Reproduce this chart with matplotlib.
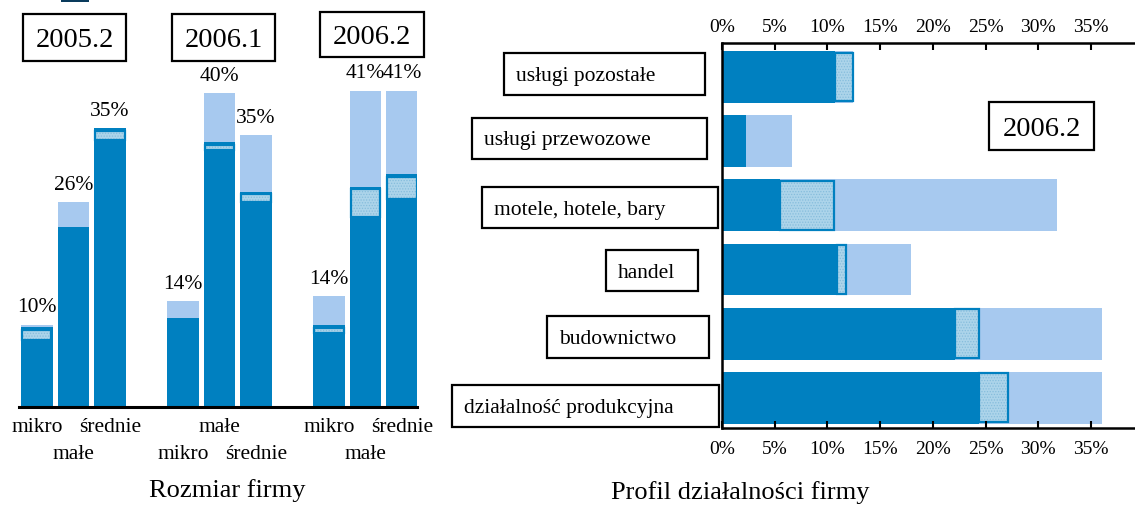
import numpy as np
import matplotlib
matplotlib.use("Agg")
import matplotlib.pyplot as plt
from matplotlib.patches import Rectangle

plt.rcParams["font.family"] = ["Liberation Serif", "DejaVu Serif"]
plt.rcParams["hatch.linewidth"] = 0.6

nan = np.nan

# --- left chart: firm size by survey period ---
periods = ["2005.2", "2006.1", "2006.2"]
sizes = ["mikro", "małe", "średnie"]
size_total = [[10.4, 25.9, 35.3], [13.4, 39.7, 34.4], [14.0, 40.0, 40.0]]
size_dark = [[10.1, 22.8, 35.3], [11.3, 33.5, 27.2], [10.4, 27.8, 29.5]]
size_hatch_lo = [[8.5, nan, 33.8], [nan, 32.5, 25.9], [9.4, 24.1, 26.3]]
size_hatch_hi = [[9.7, nan, 35.0], [nan, 33.2, 27.0], [10.0, 27.6, 29.1]]
size_labels = ["10%", "26%", "35%", "14%", "40%", "35%", "14%", "41%", "41%"]
# which tick labels sit on the second row
size_row2 = [[False, True, False], [True, False, True], [False, True, False]]

# --- right chart: business profile, 2006.2 ---
activities = ["usługi pozostałe", "usługi przewozowe", "motele, hotele, bary",
              "handel", "budownictwo", "działalność produkcyjna"]
act_dark = [10.7, 2.3, 5.5, 10.9, 22.1, 24.4]
act_hatch = [12.4, nan, 10.6, 11.8, 24.4, 27.1]
act_total = [12.4, 6.6, 31.8, 17.9, 36.1, 36.1]
pct_ticks = [0, 5, 10, 15, 20, 25, 30, 35]

DARK = "#0080c0"
LIGHT = "#a7c9ef"
HATCHF = "#acd4ea"
HATCHC = "#86bddc"

W, H = 1135, 509
fig = plt.figure(figsize=(W / 100, H / 100), dpi=100)


def fx(x):
    return x / W


def fy(y):
    return 1 - y / H


def box(x0, y0, x1, y1, txt, fs, ha="center", lw=1.6):
    fig.add_artist(Rectangle((fx(x0), fy(y1)), fx(x1) - fx(x0), fy(y0) - fy(y1),
                             transform=fig.transFigure, fill=False,
                             edgecolor="black", lw=lw))
    if ha == "center":
        fig.text(fx((x0 + x1) / 2), fy((y0 + y1) / 2), txt, ha="center",
                 va="center_baseline", fontsize=fs)
    else:
        fig.text(fx(x0 + 12), fy((y0 + y1) / 2), txt, ha="left",
                 va="center_baseline", fontsize=fs)


def hatched(ax, x, lo, hi, width, horizontal=False):
    if horizontal:
        ax.barh(x, hi - lo, left=lo, height=width, color=HATCHF,
                hatch="......", edgecolor=HATCHC, lw=0)
        ax.barh(x, hi - lo, left=lo, height=width, fill=False,
                edgecolor=DARK, lw=1.6)
    else:
        ax.bar(x, hi - lo, bottom=lo, width=width, color=HATCHF,
               hatch="......", edgecolor=HATCHC, lw=0)
        ax.bar(x, hi - lo, bottom=lo, width=width, fill=False,
               edgecolor=DARK, lw=1.6)


# left axes
ax1 = fig.add_axes([fx(19), fy(407), fx(417) - fx(19), fy(20) - fy(407)])
bw = 0.86
k = 0
for g in range(len(periods)):
    for i in range(len(sizes)):
        x = g * 4 + i
        ax1.bar(x, size_total[g][i], width=bw, color=LIGHT, lw=0)
        ax1.bar(x, size_dark[g][i], width=bw, color=DARK, lw=0)
        if not np.isnan(size_hatch_lo[g][i]):
            hatched(ax1, x, size_hatch_lo[g][i], size_hatch_hi[g][i], bw - 0.06)
        ax1.annotate(size_labels[k], (x, size_total[g][i]), xytext=(0, 9),
                     textcoords="offset points", ha="center", va="baseline",
                     fontsize=15.5, annotation_clip=False)
        # staggered category labels under the axis
        off = -34.5 if size_row2[g][i] else -14.5
        ax1.annotate(sizes[i], (x, 0), xycoords=("data", "axes fraction"),
                     xytext=(0, off), textcoords="offset points",
                     ha="center", va="center", fontsize=15.5,
                     annotation_clip=False)
        k += 1

ax1.set_xlim(-0.49, 10.41)
ax1.set_ylim(0, 387 / 7.9)
ax1.set_xticks([])
ax1.set_yticks([])
for s in ["top", "right", "left"]:
    ax1.spines[s].set_visible(False)
ax1.spines["bottom"].set_linewidth(2.2)

box(23, 14, 126, 61, periods[0], 20.5)
box(172, 14, 275, 61, periods[1], 20.5)
box(320, 12, 424, 57, periods[2], 20.5)
fig.text(fx(227), fy(491), "Rozmiar firmy", ha="center", va="center",
         fontsize=19)

# cut-off legend swatch at the very top
fig.add_artist(Rectangle((fx(61), fy(2)), fx(28), fy(0) - fy(2),
                         transform=fig.transFigure, color="#0a3b5c", lw=0))

# right axes
ax2 = fig.add_axes([fx(722), fy(428), fx(1135) - fx(722), fy(43) - fy(428)])
ypos = np.arange(len(activities))
bh = 0.81
ax2.barh(ypos, act_total, height=bh, color=LIGHT, lw=0)
ax2.barh(ypos, act_dark, height=bh, color=DARK, lw=0)
for j in range(len(activities)):
    if not np.isnan(act_hatch[j]):
        hatched(ax2, ypos[j], act_dark[j], act_hatch[j], bh - 0.05,
                horizontal=True)

ax2.set_xlim(0, 413 / 10.54)
ax2.set_ylim(5.47, -0.53)
ax2.set_xticks(pct_ticks)
ax2.set_xticklabels([f"{t}%" for t in pct_ticks], fontsize=14)
ax2.tick_params(axis="x", top=True, labeltop=False, bottom=True,
                labelbottom=True, direction="in", length=5, width=1.5, pad=9)
for t in pct_ticks:
    ax2.annotate(f"{t}%", (t, 1), xycoords=("data", "axes fraction"),
                 xytext=(0, 11.5), textcoords="offset points", ha="center",
                 va="center", fontsize=14, annotation_clip=False)
ax2.set_yticks([])
ax2.spines["right"].set_visible(False)
for s in ["top", "bottom", "left"]:
    ax2.spines[s].set_linewidth(1.8)

cat_boxes = [(504, 53, 705, 95), (472, 118, 707, 159), (482, 187, 718, 228),
             (606, 250, 698, 291), (547, 316, 709, 358), (452, 385, 719, 427)]
for (x0, y0, x1, y1), name in zip(cat_boxes, activities):
    box(x0, y0, x1, y1, name, 15.5, ha="left")

box(989, 102, 1094, 150, "2006.2", 20.5)
fig.text(fx(740), fy(493), "Profil działalności firmy", ha="center",
         va="center", fontsize=19)

fig.savefig("out.png", dpi=100)
